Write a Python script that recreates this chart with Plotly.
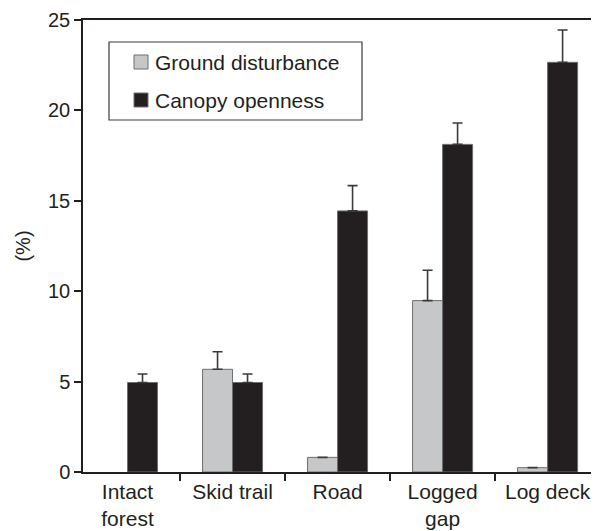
import plotly.graph_objects as go

categories = ["Intact<br>forest", "Skid trail", "Road", "Logged<br>gap", "Log deck"]
ground = [None, 5.68, 0.81, 9.48, 0.24]
ground_err = [0.0, 0.97, 0.0, 1.68, 0.0]
canopy = [4.95, 4.95, 14.44, 18.12, 22.66]
canopy_err = [0.47, 0.47, 1.40, 1.18, 1.79]
yticks = [0, 5, 10, 15, 20, 25]

FONT = "Liberation Sans, Arial, sans-serif"
INK = "#231f20"
GRAY = "#c6c7c9"
EDGE = "#6d6e70"

# page body has an 8px margin: compensate so the plot lands where the reference has it
OFF = 8
W, H = 599 - OFF, 531 - OFF
L, R, T, B = 83 - OFF, 1, 20 - OFF, 59
PW = W - L - R
PH = H - T - B


def px(X):
    return (X - 83) / PW


def py(Y):
    return (472 - Y) / PH


fig = go.Figure()
fig.add_trace(go.Bar(
    x=categories, y=ground, name="Ground disturbance",
    marker=dict(color=GRAY, line=dict(color=EDGE, width=1)),
    error_y=dict(type="data", array=ground_err, arrayminus=[0]*5, symmetric=False,
                 visible=True, color="#3a3a3a", thickness=1.6, width=5),
))
fig.add_trace(go.Bar(
    x=categories, y=canopy, name="Canopy openness",
    marker=dict(color=INK, line=dict(color=EDGE, width=1)),
    error_y=dict(type="data", array=canopy_err, arrayminus=[0]*5, symmetric=False,
                 visible=True, color="#3a3a3a", thickness=1.6, width=5),
))

# manual legend (box, swatches, labels)
shapes = [dict(type="rect", xref="paper", yref="paper",
               x0=px(109), x1=px(362), y0=py(120), y1=py(42),
               line=dict(color="#3a3a3a", width=1.2), fillcolor="white", layer="above")]
annotations = []
for i, tr in enumerate(fig.data):
    yc = 62 + 38 * i
    shapes.append(dict(type="rect", xref="paper", yref="paper",
                       x0=px(134), x1=px(148), y0=py(yc + 7), y1=py(yc - 7),
                       line=dict(color=EDGE, width=1), fillcolor=tr.marker.color, layer="above"))
    annotations.append(dict(xref="paper", yref="paper", x=px(153), y=py(yc),
                            xanchor="left", yanchor="middle", showarrow=False,
                            text=tr.name, font=dict(family=FONT, size=21, color=INK)))

fig.update_layout(
    width=W, height=H,
    margin=dict(l=L, r=R, t=T, b=B),
    paper_bgcolor="white", plot_bgcolor="white",
    barmode="group", bargap=0.4286, bargroupgap=0,
    font=dict(family=FONT, size=20, color=INK),
    showlegend=False,
    shapes=shapes, annotations=annotations,
    xaxis=dict(
        type="category", range=[-0.424, 4.48],
        showline=True, linecolor=INK, linewidth=1.5, mirror=True,
        ticks="outside", ticklen=7, tickcolor=INK, tickwidth=1.5,
        tickson="boundaries", showgrid=False, zeroline=False,
        tickfont=dict(family=FONT, size=21, color=INK),
    ),
    yaxis=dict(
        range=[0, 25], tickvals=yticks, ticktext=[str(v) for v in yticks],
        showline=True, linecolor=INK, linewidth=1.5,
        ticks="outside", ticklen=7, tickcolor=INK, tickwidth=1.5,
        showgrid=False, zeroline=False,
        tickfont=dict(family=FONT, size=20, color=INK),
        title=dict(text="(%)", font=dict(family=FONT, size=20, color=INK), standoff=12),
    ),
)

fig.write_html("out.html")
